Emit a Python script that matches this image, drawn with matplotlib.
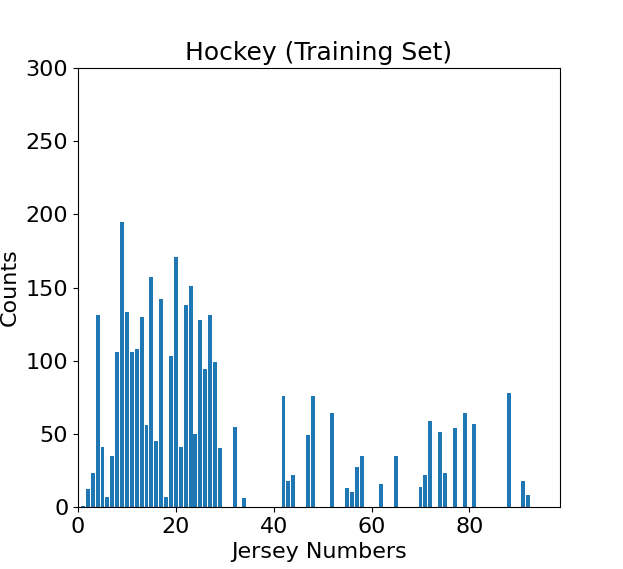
import matplotlib
matplotlib.use("Agg")
import matplotlib.pyplot as plt

jersey_numbers = [1, 2, 3, 4, 5, 6, 7, 8, 9, 10, 11, 12, 13, 14, 15, 16, 17, 18, 19, 20,
                  21, 22, 23, 24, 25, 26, 27, 28, 29, 32, 34, 42, 43, 44, 47, 48, 52,
                  55, 56, 57, 58, 62, 65, 70, 71, 72, 74, 75, 77, 79, 81, 88, 91, 92]
counts = [1, 12, 23, 131, 41, 7, 35, 106, 195, 133, 106, 108, 130, 56, 157, 45, 142, 7, 103, 171,
          41, 138, 151, 50, 128, 94, 131, 99, 40, 55, 6, 76, 18, 22, 49, 76, 64,
          13, 10, 27, 35, 16, 35, 14, 22, 59, 51, 23, 54, 64, 57, 78, 18, 8]

title = "Hockey (Training Set)"
xlabel = "Jersey Numbers"
ylabel = "Counts"

fig = plt.figure(figsize=(6.23, 5.69), dpi=100)
ax = fig.add_axes([78/623, 1-507/569, (560-78)/623, (507-68)/569])
ax.bar(jersey_numbers, counts, width=0.8, color="#1f77b4")
ax.set_xlim(0, 98.5)
ax.set_ylim(0, 300)
ax.set_title(title, fontsize=18)
ax.set_xlabel(xlabel, fontsize=16)
ax.set_ylabel(ylabel, fontsize=16)
ax.tick_params(labelsize=16)
fig.savefig("out.png", dpi=100)
